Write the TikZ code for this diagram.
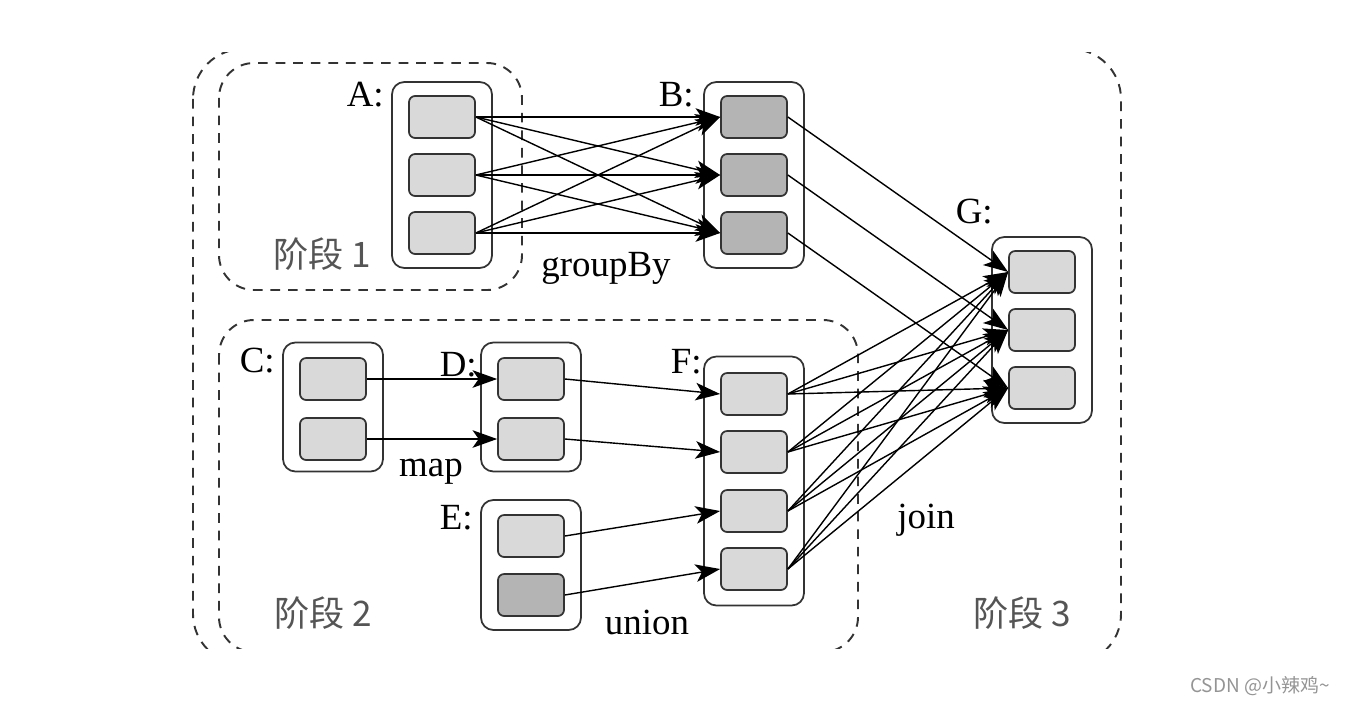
\documentclass[tikz,border=0pt]{standalone}
\usepackage{fontspec}
\setmainfont{Liberation Serif}
\newfontfamily\cjk{Noto Sans CJK SC}
\usetikzlibrary{arrows.meta}
\definecolor{cellgray}{HTML}{D9D9D9}
\definecolor{cellshade}{HTML}{B4B4B4}
\definecolor{rim}{HTML}{333333}
\definecolor{stagetext}{HTML}{555555}
\tikzset{
  stageframe/.style={draw=rim, line width=1.1pt, dash pattern=on 5.5pt off 4.5pt},
  holder/.style={draw=rim, fill=white, line width=1pt, rounded corners=7pt,
    minimum width=2cm, inner sep=0pt},
  cellbox/.style={draw=rim, fill=cellgray, line width=1pt, rounded corners=3.5pt,
    minimum width=1.32cm, minimum height=0.84cm, inner sep=0pt},
  cellshaded/.style={cellbox, fill=cellshade},
  cellname/.style={inner sep=0pt, font=\fontsize{21}{25}\selectfont},
  stagename/.style={inner sep=0pt, text=stagetext, font=\cjk\fontsize{20}{24}\selectfont},
  flow/.style={draw=black, line width=0.8pt, -{Stealth[length=14pt,width=10pt,inset=3.5pt]}},
}

\begin{document}
\begin{tikzpicture}[x=0.02cm, y=-0.02cm]
\useasboundingbox (0,0) rectangle (1346,704);
% stages
\scope
\clip (0,52) rectangle (1346,648);
\draw[stageframe, rounded corners=1cm] (193,49) rectangle (1121,664);
\draw[stageframe, rounded corners=0.7cm] (219,63) rectangle (522,290);
\draw[stageframe, rounded corners=0.7cm] (219,320) rectangle (858,652);
\endscope
\node[stagename] (stage1) at (322,254) {阶段 1};
\node[stagename] (stage2) at (323,613) {阶段 2};
\node[stagename] (stage3) at (1022,613) {阶段 3};

% datasets
\node[holder, minimum height=3.72cm] (boxA) at (442,175) {};
\node[holder, minimum height=3.72cm] (boxB) at (754,175) {};
\node[holder, minimum height=3.72cm] (boxG) at (1042,330) {};
\node[holder, minimum height=2.58cm] (boxC) at (333,407) {};
\node[holder, minimum height=2.58cm] (boxD) at (531,407) {};
\node[holder, minimum height=2.6cm] (boxE) at (531,565) {};
\node[holder, minimum height=4.98cm] (boxF) at (754,481) {};

\node[cellname, anchor=east] (nameA) at (384,95) {A:};
\node[cellname, anchor=east] (nameB) at (694,95) {B:};
\node[cellname, anchor=east] (nameG) at (993,212) {G:};
\node[cellname, anchor=east] (nameC) at (275,361) {C:};
\node[cellname, anchor=east] (nameD) at (477,365) {D:};
\node[cellname, anchor=east] (nameE) at (473,518) {E:};
\node[cellname, anchor=east] (nameF) at (702,362) {F:};

% partitions
\node[cellbox] (a1) at (442,117) {};
\node[cellbox] (a2) at (442,175) {};
\node[cellbox] (a3) at (442,233) {};
\node[cellshaded] (b1) at (754,117) {};
\node[cellshaded] (b2) at (754,175) {};
\node[cellshaded] (b3) at (754,233) {};
\node[cellbox] (g1) at (1042,272) {};
\node[cellbox] (g2) at (1042,330) {};
\node[cellbox] (g3) at (1042,388) {};
\node[cellbox] (c1) at (333,379) {};
\node[cellbox] (c2) at (333,439) {};
\node[cellbox] (d1) at (531,379) {};
\node[cellbox] (d2) at (531,439) {};
\node[cellbox] (e1) at (531,536) {};
\node[cellshaded] (e2) at (531,595) {};
\node[cellbox] (f1) at (754,394) {};
\node[cellbox] (f2) at (754,452) {};
\node[cellbox] (f3) at (754,511) {};
\node[cellbox] (f4) at (754,569) {};

% dependencies
\foreach \i in {1,2,3}
  \foreach \j in {1,2,3}
    \draw[flow] (a\i.east) -- (b\j.west);
\foreach \i in {1,2,3}
  \draw[flow] (b\i.east) -- (g\i.west);
\foreach \i in {1,...,4}
  \foreach \j in {1,2,3}
    \draw[flow] (f\i.east) -- (g\j.west);
\draw[flow] (c1.east) -- (d1.west);
\draw[flow] (c2.east) -- (d2.west);
\draw[flow] (d1.east) -- (f1.west);
\draw[flow] (d2.east) -- (f2.west);
\draw[flow] (e1.east) -- (f3.west);
\draw[flow] (e2.east) -- (f4.west);

% operations
\node[cellname, anchor=base] (groupby) at (606,276) {groupBy};
\node[cellname, anchor=base] (map) at (431,476) {map};
\node[cellname, anchor=base] (union) at (647,634) {union};
\node[cellname, anchor=base] (join) at (926,528) {join};

\node[inner sep=0pt, text=black!42, font=\cjk\fontsize{10.8}{13}\selectfont] (mark) at (1260,686) {CSDN @小辣鸡\textasciitilde};
\end{tikzpicture}
\end{document}
